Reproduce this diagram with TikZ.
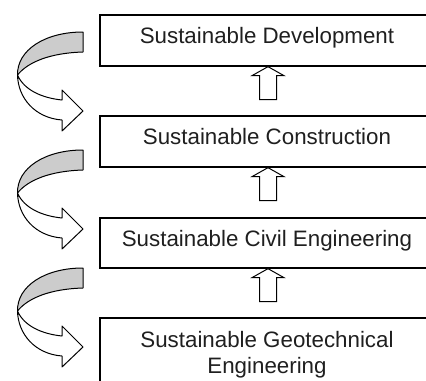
\documentclass[tikz,border=0pt]{standalone}
\usepackage{fontspec}
\setmainfont{Liberation Sans}
\begin{document}
\begin{tikzpicture}[x=1bp,y=-1bp,
  box/.style={draw, line width=1.3bp, minimum width=334bp, inner sep=0pt, rectangle},
  lbl/.style={anchor=base, inner sep=0pt, text=black!88, font=\fontsize{22.4}{26}\selectfont, align=center},
  uparrow/.style={draw, line width=1bp, fill=white, line join=miter},
  ribbon/.style={draw, line width=1bp, line join=round},
  ribbonfill/.style={fill=gray!40},
  uparr/.pic={\draw[uparrow] (0,0) -- (16,9) -- (8.5,9) -- (8.5,33) -- (-8.5,33) -- (-8.5,9) -- (-16,9) -- cycle;},
  twist/.pic={
    \fill[ribbonfill] (83,32) .. controls (45,32) and (17,50) .. (17.5,75)
          .. controls (28,62) and (50,53) .. (83,52) -- cycle;
    \draw[ribbon] (83,52) -- (83,32) .. controls (45,32) and (17,50) .. (17.5,75)
          .. controls (18,98) and (35,118) .. (62,120) -- (62,131) -- (83,111)
          -- (62,90) -- (62,100) .. controls (42,98) and (24,90) .. (17.5,75);
    \draw[ribbon] (83,52) .. controls (50,53) and (28,62) .. (17.5,75);
  }
]
\useasboundingbox (0,0) rectangle (426,381);
\clip (0,0) rectangle (426,381);
\node[box, minimum height=51bp] (b1) at (267,40.5) {};
\node[box, minimum height=51bp] (b2) at (267,141.5) {};
\node[box, minimum height=50bp] (b3) at (267,243) {};
\node[box, minimum height=100bp] (b4) at (267,368) {};
\node[lbl] (t1) at (267,43.5) {Sustainable Development};
\node[lbl] (t2) at (267,144.5) {Sustainable Construction};
\node[lbl] (t3) at (267,246) {Sustainable Civil Engineering};
\node[lbl] (t4) at (267,373) {Sustainable Geotechnical\\Engineering};
\pic at ([xshift=1bp]b1.south) {uparr};
\pic at ([xshift=1bp]b2.south) {uparr};
\pic at ([xshift=1bp]b3.south) {uparr};
\pic at (0,0) {twist};
\pic at (0,118) {twist};
\pic at (0,236) {twist};
\end{tikzpicture}
\end{document}
